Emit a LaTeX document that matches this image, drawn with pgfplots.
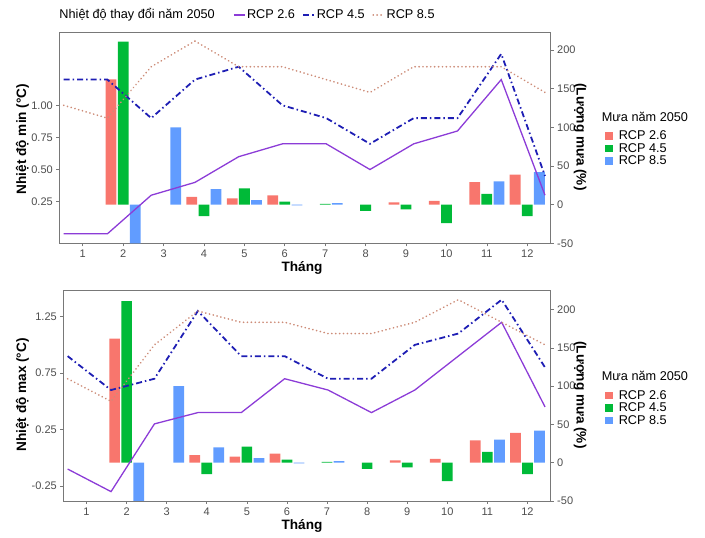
\documentclass[border=0pt]{standalone}
\usepackage{pgfplots}
\pgfplotsset{compat=1.18}
\usepackage{pgfplotstable}
\usepackage{fontspec}
\setmainfont{Liberation Sans}

\definecolor{bar26}{HTML}{F8766D}
\definecolor{bar45}{HTML}{00BA38}
\definecolor{bar85}{HTML}{619CFF}
\definecolor{ln26}{RGB}{140,60,215}
\definecolor{ln45}{RGB}{30,30,180}
\definecolor{ln85}{RGB}{205,140,120}
\definecolor{frame}{RGB}{120,120,120}
\definecolor{ticktxt}{HTML}{4D4D4D}

% rain change (%), same in both panels; nan = no bar
\pgfplotstableread{
m  r26  r45  r85
1  nan  nan  nan
2  162  211  -50
3  nan  nan  100
4  10   -15  20
5  8    21   6
6  12   4    -1
7  nan  1    2
8  nan  -8   nan
9  3    -6   nan
10 5    -24  nan
11 29   14   30
12 39   -15  42
}\rain

% min temperature change
\pgfplotstableread{
m  t26  t45  t85
1  0.0  1.2  1.0
2  0.0  1.2  0.9
3  0.3  0.9  1.3
4  0.4  1.2  1.5
5  0.6  1.3  1.3
6  0.7  1.0  1.3
7  0.7  0.9  1.2
8  0.5  0.7  1.1
9  0.7  0.9  1.3
10 0.8  0.9  1.3
11 1.2  1.4  1.3
12 0.3  0.45 1.1
}\tmin

% max temperature change
\pgfplotstableread{
m  t26  t45  t85
1  -0.1 0.9  0.7
2  -0.3 0.6  0.5
3  0.3  0.7  1.0
4  0.4  1.3  1.3
5  0.4  0.9  1.2
6  0.7  0.9  1.2
7  0.6  0.7  1.1
8  0.4  0.7  1.1
9  0.6  1.0  1.2
10 0.9  1.1  1.4
11 1.2  1.4  1.2
12 0.45 0.8  1.0
}\tmax

\newcommand{\lgfont}{\fontsize{12.7}{13}\selectfont}
\newcommand{\ttlfont}{\fontsize{13.6}{14}\selectfont\bfseries}

\pgfplotsset{
  common/.style={
    anchor=south west, scale only axis, height=211pt,
    tick align=outside, major tick length=3pt,
    tick style={color=frame, line width=0.6pt},
    axis line style={color=frame, line width=0.7pt},
    ticklabel style={font=\fontsize{11}{11}\selectfont, text=ticktxt},
    /pgf/number format/assume math mode=true,
    unbounded coords=discard,
  },
  barax/.style={
    common,
    xmin=0.42, xmax=12.58, ymin=-50,
    xtick={1,...,12}, xtick pos=bottom,
    ytick={-50,0,50,100,150,200}, ytick pos=right, yticklabel pos=right,
    ybar, bar width=0.267,
    every axis plot/.append style={draw=none},
    legend image code/.code={\fill[#1] (0pt,-3.8pt) rectangle (8pt,3.8pt);},
    legend cell align=left,
    legend style={anchor=north west, draw=none, fill=none, inner sep=0pt,
      font=\lgfont, row sep=1pt,
      nodes={inner sep=0.6pt},
      /tikz/every odd column/.append style={column sep=5pt}},
  },
  lineax/.style={
    common,
    xmin=0.9, xmax=12.13, hide x axis,
    axis y line*=left, ytick pos=left,
    yticklabel style={/pgf/number format/.cd, fixed, fixed zerofill, precision=2},
    every axis plot/.append style={mark=none},
  },
  p26/.style={ln26, line width=1.3pt},
  p45/.style={ln45, line width=1.8pt, dash pattern=on 6pt off 3pt on 1.5pt off 3pt},
  p85/.style={ln85, line width=1.8pt, line cap=round, dash pattern=on 0.1pt off 3.8pt},
}

\begin{document}
\begin{tikzpicture}
\path (0pt,0pt) rectangle (705pt,538pt);

% ---------- top panel ----------
\begin{axis}[barax, at={(59.3pt,294.7pt)}, width=491.4pt, ymax=223,
    legend style={at={(1.1105,0.537)}}]
\addplot[fill=bar26, bar shift=-0.3] table[x=m, y=r26] {\rain};
\addplot[fill=bar45, bar shift=0] table[x=m, y=r45] {\rain};
\addplot[fill=bar85, bar shift=0.3] table[x=m, y=r85] {\rain};
\legend{RCP 2.6, RCP 4.5, RCP 8.5}
\end{axis}
\begin{axis}[lineax, at={(59.3pt,294.7pt)}, width=491.4pt,
    ymin=-0.074, ymax=1.568, ytick={0.25,0.5,0.75,1},
    legend columns=-1,
    legend image code/.code={\draw[#1] (0pt,0pt) -- (11pt,0pt);},
    legend style={at={(0.3535,1.082)}, anchor=west, draw=none, fill=none,
      font=\lgfont, inner sep=0pt, nodes={inner sep=1.5pt},
      /tikz/every even column/.append style={column sep=6pt}}]
\addplot[p26] table[x=m, y=t26] {\tmin};
\addplot[p45] table[x=m, y=t45] {\tmin};
\addplot[p85] table[x=m, y=t85] {\tmin};
\legend{RCP 2.6, RCP 4.5, RCP 8.5}
\end{axis}

% ---------- bottom panel ----------
\begin{axis}[barax, at={(63.3pt,37pt)}, width=487.4pt, ymax=225.5,
    legend style={at={(1.1114,0.529)}}]
\addplot[fill=bar26, bar shift=-0.3] table[x=m, y=r26] {\rain};
\addplot[fill=bar45, bar shift=0] table[x=m, y=r45] {\rain};
\addplot[fill=bar85, bar shift=0.3] table[x=m, y=r85] {\rain};
\legend{RCP 2.6, RCP 4.5, RCP 8.5}
\end{axis}
\begin{axis}[lineax, at={(63.3pt,37pt)}, width=487.4pt,
    ymin=-0.383, ymax=1.486, ytick={-0.25,0.25,0.75,1.25}]
\addplot[p26] table[x=m, y=t26] {\tmax};
\addplot[p45] table[x=m, y=t45] {\tmax};
\addplot[p85] table[x=m, y=t85] {\tmax};
\end{axis}

% ---------- titles ----------
\node[anchor=west, inner sep=0pt, font=\lgfont] at (59.3pt,523pt) {Nhiệt độ thay đổi năm 2050};
\node[anchor=west, inner sep=0pt, font=\lgfont] at (601.7pt,421.3pt) {Mưa năm 2050};
\node[anchor=west, inner sep=0pt, font=\lgfont] at (601.7pt,162pt) {Mưa năm 2050};
\node[font=\ttlfont, rotate=90] at (22.5pt,399pt) {Nhiệt độ min (°C)};
\node[font=\ttlfont, rotate=90] at (22.5pt,143pt) {Nhiệt độ max (°C)};
\node[font=\ttlfont, rotate=-90] at (580pt,401pt) {(Lượng mưa (\%)};
\node[font=\ttlfont, rotate=-90] at (580pt,143pt) {(Lượng mưa (\%)};
\node[font=\ttlfont] at (302pt,270pt) {Tháng};
\node[font=\ttlfont] at (302pt,12pt) {Tháng};
\end{tikzpicture}
\end{document}
